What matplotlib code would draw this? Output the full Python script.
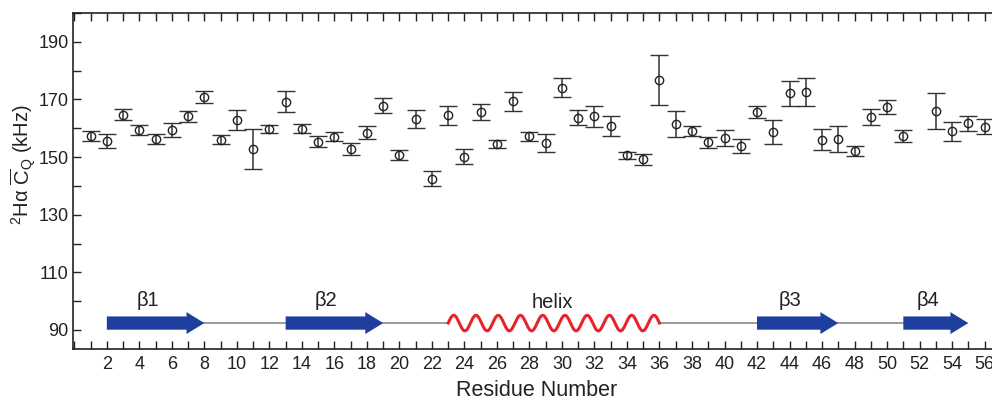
import numpy as np
import matplotlib
matplotlib.use("Agg")
import matplotlib.pyplot as plt
from matplotlib.patches import FancyArrow
from matplotlib.ticker import MultipleLocator

plt.rcParams['font.family'] = ['Liberation Sans', 'DejaVu Sans']
plt.rcParams['mathtext.fontset'] = 'custom'
plt.rcParams['mathtext.rm'] = 'Liberation Sans'
plt.rcParams['mathtext.it'] = 'Liberation Sans:italic'

# residue 52 has no value
residues = [1, 2, 3, 4, 5, 6, 7, 8, 9, 10, 11, 12, 13, 14, 15, 16, 17, 18, 19, 20,
            21, 22, 23, 24, 25, 26, 27, 28, 29, 30, 31, 32, 33, 34, 35, 36, 37, 38, 39, 40,
            41, 42, 43, 44, 45, 46, 47, 48, 49, 50, 51, 53, 54, 55, 56]
cq = [157.2, 155.6, 164.7, 159.4, 156.2, 159.4, 164.1, 170.7, 156.0, 162.9,
      152.7, 159.9, 169.2, 159.9, 155.3, 157.1, 152.8, 158.5, 167.9, 150.8,
      163.2, 142.4, 164.6, 150.2, 165.7, 154.6, 169.3, 157.2, 154.9, 174.1,
      163.7, 164.1, 160.9, 150.6, 149.3, 176.9, 161.5, 159.1, 155.1, 156.7,
      153.9, 165.6, 158.6, 172.2, 172.7, 156.1, 156.3, 152.1, 164.0, 167.4,
      157.4, 166.0, 158.9, 161.7, 160.6]
cq_err = [1.7, 2.5, 2.0, 1.9, 1.8, 2.5, 1.9, 2.1, 1.6, 3.6,
          7.0, 1.4, 3.7, 1.6, 1.9, 1.5, 2.1, 2.3, 2.7, 1.7,
          3.0, 2.6, 3.3, 2.7, 2.7, 1.3, 3.4, 1.6, 3.2, 3.4,
          2.6, 3.6, 3.5, 1.3, 1.9, 8.7, 4.6, 1.7, 2.0, 2.7,
          2.4, 2.2, 4.1, 4.3, 4.9, 3.8, 4.6, 1.6, 2.8, 2.4,
          2.0, 6.2, 3.4, 2.6, 2.5]

# secondary structure (start, end, label)
strands = [(2, 8, 'β1'), (13, 19, 'β2'), (42, 47, 'β3'), (51, 55, 'β4')]
helix = (23, 36, 'helix')
coils = [(8, 13), (19, 23), (36, 42), (47, 51)]

ss_y = 92.4
blue = '#1f3f9e'
red = '#e8232b'
ink = '#222222'

fig = plt.figure(figsize=(9.92, 3.99), dpi=100)
ax = fig.add_axes([0.0733, 0.1253, 0.9356, 0.8421])

ax.errorbar(residues, cq, yerr=cq_err, fmt='o', ms=6.0, mfc='none', mec=ink, mew=1.0,
            ecolor='#333333', elinewidth=1.1, capsize=6.5, capthick=1.7, color=ink, zorder=3)

# coil lines
for a, b in coils:
    ax.plot([a, b], [ss_y, ss_y], color='#8a8a8a', lw=1.2, zorder=2)

# strands
for a, b, lab in strands:
    ax.add_patch(FancyArrow(a, ss_y, b - a, 0, width=4.6, head_width=7.6,
                            head_length=1.1, length_includes_head=True,
                            color=blue, lw=0, zorder=3))
    ax.text((a + b - 1) / 2, 100.2, lab, ha='center', va='center', fontsize=14.5, color=ink)

# helix
hx = np.linspace(helix[0], helix[1], 600)
hy = ss_y + 2.7 * np.sin(2 * np.pi * 9.5 * (hx - helix[0]) / (helix[1] - helix[0]))
ax.plot(hx, hy, color=red, lw=2.2, zorder=3)
ax.text((helix[0] + helix[1]) / 2 - 0.1, 99.4, helix[2], ha='center', va='center',
        fontsize=14.5, color=ink)

ax.set_xlim(-0.1, 57)
ax.set_ylim(83.4, 200)

ax.xaxis.set_minor_locator(MultipleLocator(1))
ax.set_xticks(np.arange(2, 57, 2))
ax.yaxis.set_minor_locator(MultipleLocator(10))
ax.set_yticks(np.arange(90, 200, 20))

ax.tick_params(which='both', direction='in', top=True, right=True, length=6,
               width=1.0, color=ink, labelsize=13, labelcolor=ink)
ax.tick_params(axis='x', pad=5)
ax.tick_params(axis='y', pad=3)
for s in ax.spines.values():
    s.set_linewidth(1.2)
    s.set_color(ink)

ax.set_xlabel('Residue Number', fontsize=15.5, color=ink)
ax.xaxis.set_label_coords(0.5, -0.092)
ax.set_ylabel(r'$^{2}$Hα $\overline{\mathrm{C}}_{\mathrm{Q}}$ (kHz)',
              fontsize=14.5, color=ink)
ax.yaxis.set_label_coords(-0.037, 0.549)

fig.savefig('out.png', dpi=100)
